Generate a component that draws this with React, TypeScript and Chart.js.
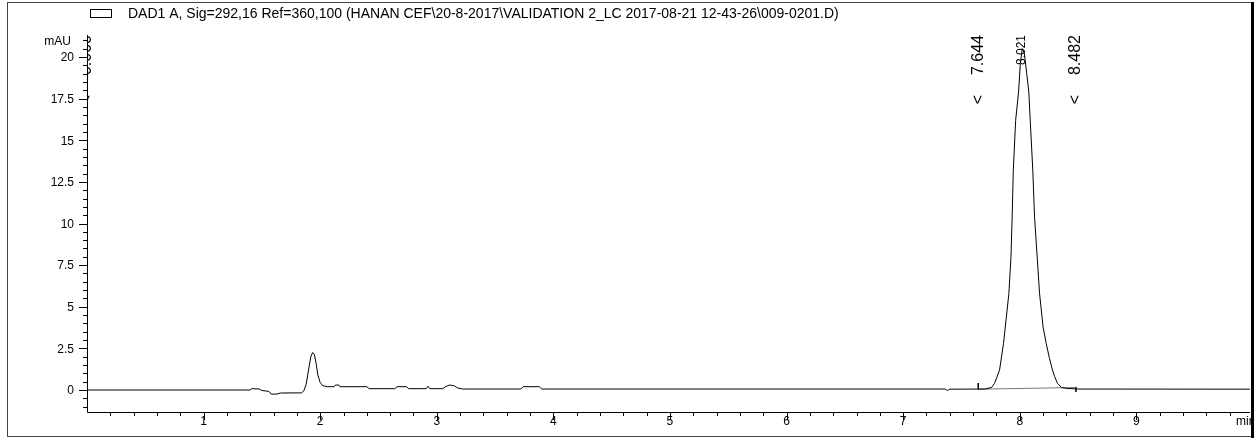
import React, { useEffect, useRef } from "react";
import { Chart, registerables } from "chart.js";

Chart.register(...registerables);

// ---- data ----
const seriesLabel =
  "DAD1 A, Sig=292,16 Ref=360,100 (HANAN CEF\\20-8-2017\\VALIDATION 2_LC 2017-08-21 12-43-26\\009-0201.D)";
const xUnit = "min";
const yUnit = "mAU";

const xTickValues = [1, 2, 3, 4, 5, 6, 7, 8, 9];
const xTickLabels = ["1", "2", "3", "4", "5", "6", "7", "8", "9"];
const yTickValues = [0, 2.5, 5, 7.5, 10, 12.5, 15, 17.5, 20];
const yTickLabels = ["0", "2.5", "5", "7.5", "10", "12.5", "15", "17.5", "20"];

const times = [
  0.0, 1.4, 1.41, 1.48, 1.5, 1.56, 1.58, 1.63, 1.66, 1.84, 1.86, 1.88, 1.9, 1.92, 1.935, 1.95, 1.965, 1.98,
  2.0, 2.02, 2.06, 2.12, 2.13, 2.16, 2.17, 2.4, 2.42, 2.64, 2.66, 2.74, 2.76, 2.91, 2.925, 2.94, 3.05, 3.08,
  3.11, 3.15, 3.18, 3.22, 3.72, 3.74, 3.88, 3.9, 7.36, 7.38, 7.4, 7.7, 7.758, 7.784, 7.827, 7.861, 7.907,
  7.925, 7.935, 7.945, 7.965, 7.99, 8.005, 8.022, 8.04, 8.06, 8.078, 8.09, 8.112, 8.127, 8.142, 8.17, 8.2,
  8.227, 8.255, 8.281, 8.3, 8.324, 8.358, 8.4, 8.5, 9.975,
];
const absorbance = [
  0.0, 0.0, 0.08, 0.06, -0.03, -0.08, -0.25, -0.24, -0.18, -0.17, -0.05, 0.35, 1.2, 2.0, 2.25, 2.15, 1.6, 0.9,
  0.45, 0.27, 0.2, 0.2, 0.3, 0.3, 0.2, 0.2, 0.08, 0.08, 0.2, 0.2, 0.08, 0.08, 0.22, 0.08, 0.08, 0.22,
  0.3, 0.25, 0.12, 0.06, 0.06, 0.2, 0.2, 0.06, 0.06, -0.03, 0.05, 0.06, 0.15, 0.4, 1.2, 2.8, 5.8,
  8.0, 10.4, 13.2, 16.2, 17.9, 19.6, 20.5, 20.2, 19.0, 17.9, 16.2, 13.2, 10.4, 8.8, 5.8, 3.8,
  2.8, 1.9, 1.2, 0.8, 0.4, 0.15, 0.1, 0.06, 0.05,
];

const baselineTimes = [7.644, 8.482];
const baselineValues = [0.05, 0.15];

const markTimes = [7.644, 8.482];
const markLow = [0.05, -0.12];
const markHigh = [0.42, 0.2];

const eventTimes = [0, 7.644, 8.482];
const eventLabels = ["0.000", "7.644", "8.482"];
const peakTimes = [8.021];
const peakLabels = ["8.021"];

const X_MIN = 0;
const X_MAX = 9.975;
const Y_MIN = -1.32;
const Y_MAX = 21.32;

const FONT = "'Liberation Sans', Arial, sans-serif";

const overlayPlugin = {
  id: "chemstationOverlay",
  afterDraw(chart: any) {
    const ctx: CanvasRenderingContext2D = chart.ctx;
    const xs = chart.scales.x;
    const ys = chart.scales.y;
    const a = chart.chartArea;
    ctx.save();
    ctx.strokeStyle = "#000";
    ctx.fillStyle = "#000";
    ctx.lineWidth = 1;

    // outer frame
    ctx.strokeStyle = "#444";
    ctx.strokeRect(7.5, 2.5, 1244, 434);
    ctx.fillStyle = "#000";
    ctx.fillRect(1251, 2, 3, 436);
    ctx.strokeStyle = "#000";

    // axis lines
    ctx.beginPath();
    ctx.moveTo(Math.round(a.left) + 0.5, a.top);
    ctx.lineTo(Math.round(a.left) + 0.5, Math.round(a.bottom) + 0.5);
    ctx.lineTo(a.right, Math.round(a.bottom) + 0.5);
    ctx.stroke();

    // y ticks (minor every 0.5)
    ctx.beginPath();
    for (let i = Math.ceil(Y_MIN / 0.5); i <= Math.floor(Y_MAX / 0.5); i++) {
      const y = Math.round(ys.getPixelForValue(i * 0.5)) + 0.5;
      const len = i % 5 === 0 ? 8 : 4;
      ctx.moveTo(Math.round(a.left), y);
      ctx.lineTo(Math.round(a.left) - len, y);
    }
    ctx.stroke();
    // x ticks (minor every 0.2)
    ctx.beginPath();
    for (let i = 1; i <= Math.floor(X_MAX / 0.2 + 1e-6); i++) {
      const x = Math.round(xs.getPixelForValue(i * 0.2)) + 0.5;
      const len = i % 5 === 0 ? 7 : 3;
      ctx.moveTo(x, Math.round(a.bottom) + 1);
      ctx.lineTo(x, Math.round(a.bottom) + 1 + len);
    }
    ctx.stroke();

    // tick labels
    ctx.font = `12px ${FONT}`;
    ctx.textAlign = "right";
    ctx.textBaseline = "middle";
    yTickValues.forEach((v, i) => {
      ctx.fillText(yTickLabels[i], a.left - 13, ys.getPixelForValue(v) + 1);
    });
    ctx.fillText(yUnit, a.left - 16, a.top + 7);
    ctx.textAlign = "center";
    xTickValues.forEach((v, i) => {
      ctx.fillText(xTickLabels[i], xs.getPixelForValue(v), a.bottom + 10);
    });
    ctx.save();
    ctx.beginPath();
    ctx.rect(0, 0, 1251, 438);
    ctx.clip();
    ctx.textAlign = "left";
    ctx.fillText(xUnit, 1236, a.bottom + 10);
    ctx.restore();

    // legend
    ctx.strokeRect(90.5, 9.5, 21, 8);
    ctx.textAlign = "left";
    ctx.font = `14px ${FONT}`;
    ctx.fillText(chart.data.datasets[0].label, 128, 14);

    // event labels (rotated)
    ctx.save();
    ctx.beginPath();
    ctx.rect(a.left + 1, 0, a.right - a.left, a.bottom);
    ctx.clip();
    eventTimes.forEach((t, i) => {
      const x = xs.getPixelForValue(t);
      ctx.save();
      ctx.translate(x, a.top);
      ctx.rotate(-Math.PI / 2);
      ctx.font = `16px ${FONT}`;
      ctx.textAlign = "right";
      ctx.textBaseline = "middle";
      ctx.fillText(eventLabels[i], 0, 0);
      ctx.fillText("<", -60, 0);
      ctx.restore();
    });
    peakTimes.forEach((t, i) => {
      const x = xs.getPixelForValue(t);
      ctx.save();
      ctx.translate(x, a.top);
      ctx.rotate(-Math.PI / 2);
      ctx.font = `12px ${FONT}`;
      ctx.textAlign = "right";
      ctx.textBaseline = "middle";
      ctx.fillText(peakLabels[i], 0, 0);
      ctx.restore();
    });
    ctx.restore();

    ctx.restore();
  },
};

export default function App() {
  const ref = useRef<HTMLCanvasElement | null>(null);

  useEffect(() => {
    if (!ref.current) return;
    const trace = times.map((t, i) => ({ x: t, y: absorbance[i] }));
    const base = baselineTimes.map((t, i) => ({ x: t, y: baselineValues[i] }));
    const marks: any[] = [];
    markTimes.forEach((t, i) => {
      marks.push({ x: t, y: markLow[i] }, { x: t, y: markHigh[i] }, { x: t, y: null });
    });
    const chart = new Chart(ref.current, {
      type: "line",
      data: {
        datasets: [
          {
            label: seriesLabel,
            data: trace,
            borderColor: "#000",
            borderWidth: 1,
            pointRadius: 0,
            tension: 0,
          },
          {
            label: "baseline",
            data: base,
            borderColor: "#777",
            borderWidth: 1,
            pointRadius: 0,
          },
          {
            label: "marks",
            data: marks,
            borderColor: "#000",
            borderWidth: 1.5,
            pointRadius: 0,
            spanGaps: false,
          },
        ],
      },
      options: {
        animation: false,
        responsive: false,
        devicePixelRatio: 1,
        layout: { padding: { left: 87, right: 5, top: 35, bottom: 26 } },
        plugins: { legend: { display: false }, tooltip: { enabled: false } },
        scales: {
          x: { type: "linear", min: X_MIN, max: X_MAX, display: false },
          y: { type: "linear", min: Y_MIN, max: Y_MAX, display: false },
        },
      },
      plugins: [overlayPlugin],
    });
    return () => chart.destroy();
  }, []);

  return (
    <div style={{ position: "fixed", left: 0, top: 0, width: 1255, height: 438, background: "#fff" }}>
      <canvas ref={ref} width={1255} height={438} style={{ display: "block" }} />
    </div>
  );
}
